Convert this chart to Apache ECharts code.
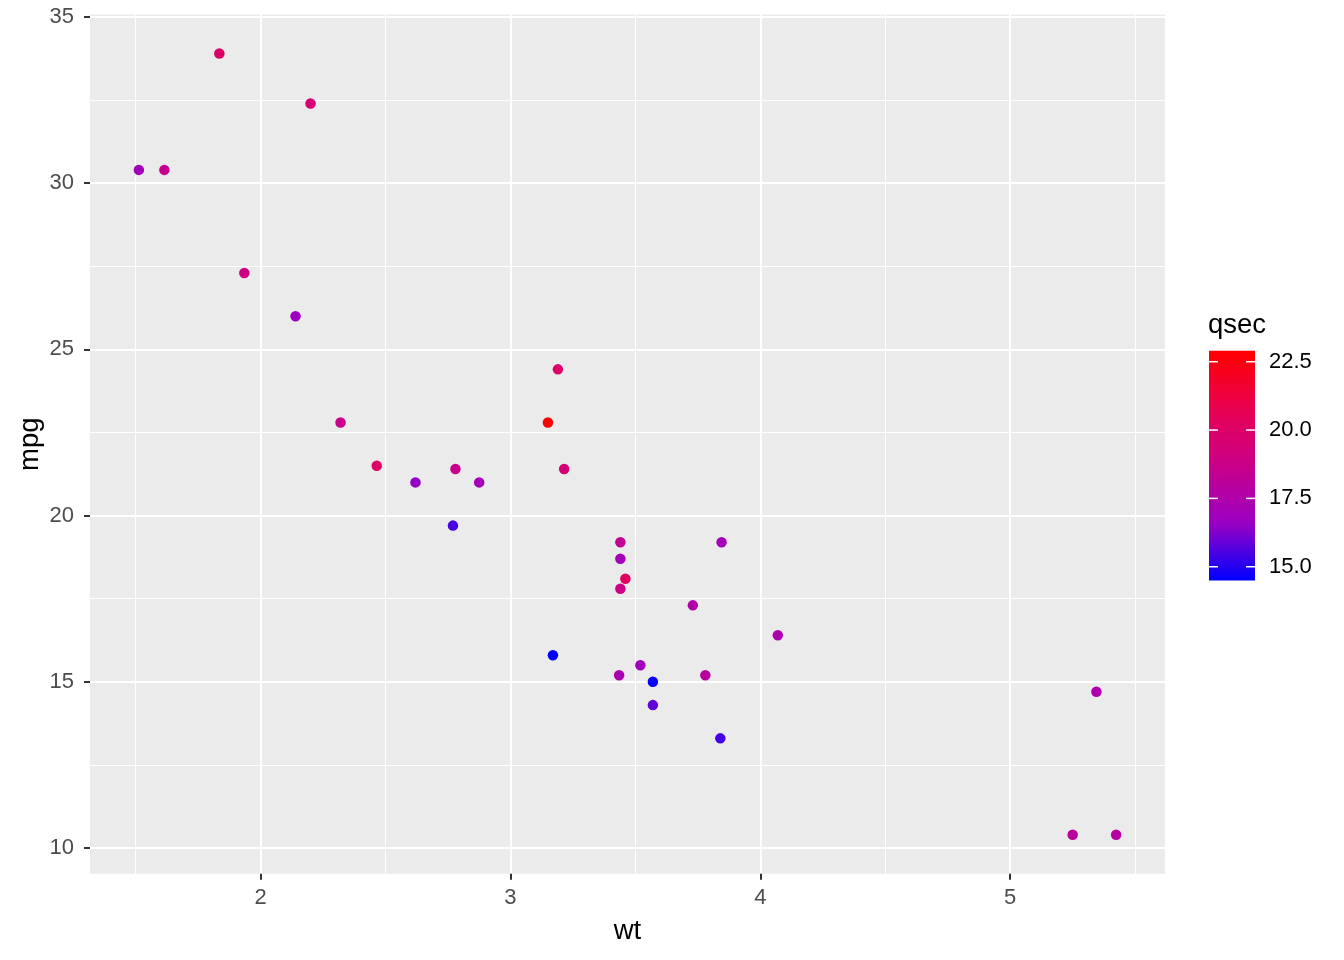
<!DOCTYPE html>
<html>
<head>
<meta charset="utf-8">
<script src="https://cdn.jsdelivr.net/npm/echarts@6/dist/echarts.min.js"></script>
<style>
html,body{margin:0;padding:0;background:#fff;}
#chart{width:1344px;height:960px;}
</style>
</head>
<body>
<div id="chart"></div>
<script>
// mtcars: wt, mpg, qsec
const wt   = [2.620, 2.875, 2.320, 3.215, 3.440, 3.460, 3.570, 3.190, 3.150, 3.440, 3.440, 4.070, 3.730, 3.780, 5.250, 5.424, 5.345, 2.200, 1.615, 1.835, 2.465, 3.520, 3.435, 3.840, 3.845, 1.935, 2.140, 1.513, 3.170, 2.770, 3.570, 2.780];
const mpg  = [21.0, 21.0, 22.8, 21.4, 18.7, 18.1, 14.3, 24.4, 22.8, 19.2, 17.8, 16.4, 17.3, 15.2, 10.4, 10.4, 14.7, 32.4, 30.4, 33.9, 21.5, 15.5, 15.2, 13.3, 19.2, 27.3, 26.0, 30.4, 15.8, 19.7, 15.0, 21.4];
const qsec = [16.46, 17.02, 18.61, 19.44, 17.02, 20.22, 15.84, 20.00, 22.90, 18.30, 18.90, 17.40, 17.60, 18.00, 17.98, 17.82, 17.42, 19.47, 18.52, 19.90, 20.01, 16.87, 17.30, 15.41, 17.05, 18.90, 16.70, 16.90, 14.50, 15.50, 14.60, 18.60];

const xTicks = [2, 3, 4, 5];
const xMinor = [1.5, 2.5, 3.5, 4.5, 5.5];
const yTicks = [10, 15, 20, 25, 30, 35];
const yMinor = [12.5, 17.5, 22.5, 27.5, 32.5];
const qTicks = [15, 17.5, 20, 22.5];

const rangeExp = (arr) => {
  const lo = Math.min(...arr), hi = Math.max(...arr), d = (hi - lo) * 0.05;
  return [lo - d, hi + d];
};
const [xMin, xMax] = rangeExp(wt);
const [yMin, yMax] = rangeExp(mpg);
const qMin = Math.min(...qsec), qMax = Math.max(...qsec);

// blue -> red interpolated in Lab (approximation stops)
const gradColors = ['#0000FF', '#9A00C3', '#CA0089', '#E80050', '#FF0000'];

const points = wt.map((w, i) => [w, mpg[i], qsec[i]]);

const FONT = 'Liberation Sans, Arial, sans-serif';
const TICK_FS = 22;
const TITLE_FS = 27.5;

const chart = echarts.init(document.getElementById('chart'), null, {renderer: 'canvas'});
chart.setOption({
  animation: false,
  backgroundColor: '#FFFFFF',
  title: {
    text: 'qsec', left: 1208, top: 311, padding: 0,
    textStyle: {fontFamily: FONT, fontSize: TITLE_FS, fontWeight: 'normal', color: '#000000'}
  },
  grid: [
    {left: 90, top: 14.5, width: 1075, height: 859.3, show: true, backgroundColor: '#EBEBEB', borderWidth: 0, containLabel: false},
    {left: 1209, top: 350.8, width: 46, height: 229.6, show: false, containLabel: false}
  ],
  xAxis: [
    {
      type: 'value', gridIndex: 0, min: xMin, max: xMax, position: 'bottom',
      name: 'wt', nameLocation: 'middle', nameGap: 44, nameMoveOverlap: false,
      nameTextStyle: {fontFamily: FONT, fontSize: TITLE_FS, color: '#000000'},
      axisLine: {show: false},
      axisTick: {show: true, customValues: xTicks, length: 6, lineStyle: {color: '#333333', width: 2}},
      axisLabel: {customValues: xTicks, margin: 13, fontFamily: FONT, fontSize: TICK_FS, color: '#4D4D4D'},
      splitLine: {show: true, lineStyle: {color: '#FFFFFF', width: 2}}
    },
    {
      type: 'value', gridIndex: 0, min: xMin, max: xMax, position: 'bottom',
      axisLine: {show: false},
      axisTick: {show: false, customValues: xMinor},
      axisLabel: {show: false, customValues: xMinor},
      splitLine: {show: true, lineStyle: {color: '#FFFFFF', width: 1}}
    },
    {
      type: 'value', gridIndex: 1, min: 0, max: 1, show: false
    }
  ],
  yAxis: [
    {
      type: 'value', gridIndex: 0, min: yMin, max: yMax, position: 'left',
      name: 'mpg', nameLocation: 'middle', nameGap: 46, nameMoveOverlap: false,
      nameTextStyle: {fontFamily: FONT, fontSize: TITLE_FS, color: '#000000'},
      axisLine: {show: false},
      axisTick: {show: true, customValues: yTicks, length: 6, lineStyle: {color: '#333333', width: 2}},
      axisLabel: {customValues: yTicks, margin: 16, fontFamily: FONT, fontSize: TICK_FS, color: '#4D4D4D'},
      splitLine: {show: true, lineStyle: {color: '#FFFFFF', width: 2}}
    },
    {
      type: 'value', gridIndex: 0, min: yMin, max: yMax, position: 'left',
      axisLine: {show: false},
      axisTick: {show: false, customValues: yMinor},
      axisLabel: {show: false, customValues: yMinor},
      splitLine: {show: true, lineStyle: {color: '#FFFFFF', width: 1}}
    },
    {
      type: 'value', gridIndex: 1, min: qMin, max: qMax, position: 'right',
      axisLine: {show: false},
      axisTick: {show: false, customValues: qTicks},
      axisLabel: {customValues: qTicks, margin: 14, fontFamily: FONT, fontSize: TICK_FS, color: '#000000',
                  formatter: (v) => Number(v).toFixed(1)},
      splitLine: {show: false}
    }
  ],
  visualMap: {
    type: 'continuous', show: false, seriesIndex: 0, dimension: 2,
    min: qMin, max: qMax,
    inRange: {color: gradColors}
  },
  series: [
    {
      type: 'scatter', xAxisIndex: 0, yAxisIndex: 0,
      data: points, symbol: 'circle', symbolSize: 10.5,
      itemStyle: {opacity: 1}, z: 5
    },
    {
      type: 'custom', xAxisIndex: 2, yAxisIndex: 2, z: 1,
      data: [[0, qMin, 1, qMax]],
      renderItem: function (params, api) {
        const tl = api.coord([api.value(0), api.value(3)]);
        const br = api.coord([api.value(2), api.value(1)]);
        const stops = gradColors.slice().reverse().map((c, i, a) => ({offset: i / (a.length - 1), color: c}));
        const children = [{
          type: 'rect',
          shape: {x: tl[0], y: tl[1], width: br[0] - tl[0], height: br[1] - tl[1]},
          style: {fill: new echarts.graphic.LinearGradient(0, 0, 0, 1, stops)}
        }];
        const tickLen = 9;
        qTicks.forEach(function (t) {
          const p = api.coord([0, t]);
          children.push({type: 'line', shape: {x1: tl[0], y1: p[1], x2: tl[0] + tickLen, y2: p[1]},
                         style: {stroke: '#FFFFFF', lineWidth: 1.5}});
          children.push({type: 'line', shape: {x1: br[0] - tickLen, y1: p[1], x2: br[0], y2: p[1]},
                         style: {stroke: '#FFFFFF', lineWidth: 1.5}});
        });
        return {type: 'group', children: children};
      }
    }
  ]
});
</script>
</body>
</html>
